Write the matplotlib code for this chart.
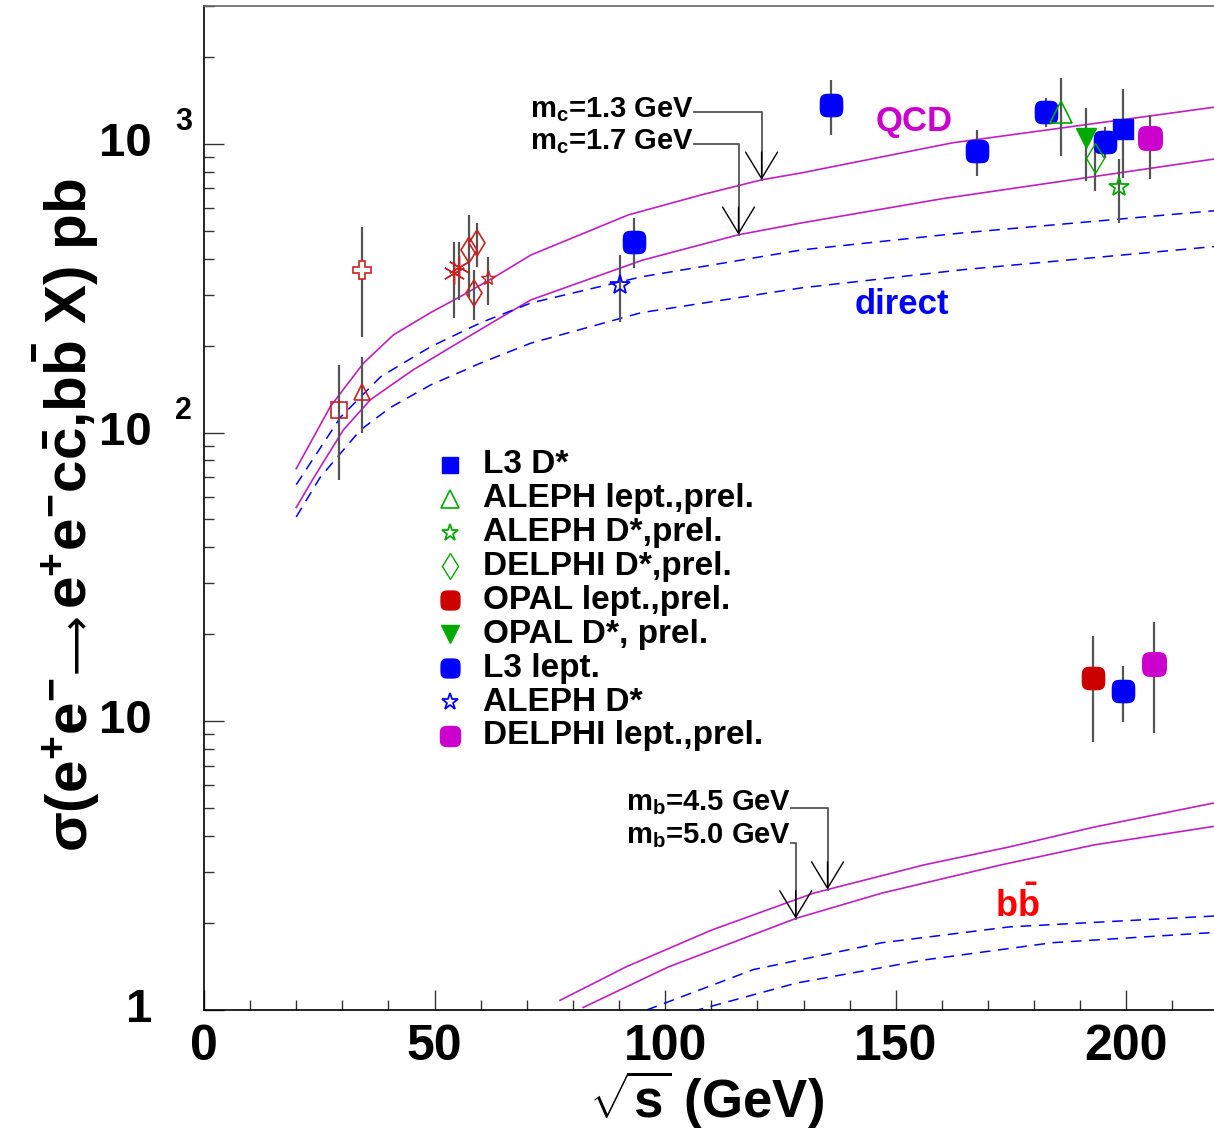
import numpy as np
import matplotlib
matplotlib.use('Agg')
import matplotlib.pyplot as plt
from matplotlib.path import Path
from matplotlib.ticker import MultipleLocator, LogLocator, NullFormatter

plt.rcParams['font.family'] = ['Liberation Sans', 'DejaVu Sans']
plt.rcParams['font.weight'] = 'bold'
plt.rcParams['mathtext.fontset'] = 'custom'
plt.rcParams['mathtext.rm'] = 'Liberation Sans:bold'
plt.rcParams['mathtext.bf'] = 'Liberation Sans:bold'
plt.rcParams['mathtext.it'] = 'Liberation Sans:bold'
plt.rcParams['mathtext.sf'] = 'Liberation Sans:bold'
plt.rcParams['mathtext.default'] = 'rm'

# ---- theory curves (sqrt(s) in GeV, sigma in pb) ----
qcd13_x = [20, 27.4, 34.6, 41.1, 49.1, 56.3, 63.7, 70.9, 92, 107.8, 120.9, 129.6, 162.2, 220]
qcd13_y = [75, 123, 174, 218, 260, 300, 351, 412, 567, 665, 750, 793, 1007, 1345]
qcd17_x = [20, 23.5, 30.2, 36.1, 45.4, 55, 62.8, 70.9, 95, 115.9, 129.6, 160, 220]
qcd17_y = [55, 68.5, 102, 130, 165, 204, 242, 288, 395, 484, 532, 645, 890]
dir13_x = [20, 29.6, 38.3, 49.1, 60, 70.9, 94.8, 129.6, 164.3, 220]
dir13_y = [66, 113, 156, 198, 240, 281, 346, 429, 491, 588]
dir17_x = [20, 25.2, 33.9, 40.4, 49.1, 60, 70.9, 94.8, 129.6, 164.3, 220]
dir17_y = [51, 70, 102, 122, 146, 174, 204, 260, 317, 366, 442]

bb45_x = [77.2, 91.5, 110, 132.2, 156.1, 174.6, 193, 220]
bb45_y = [1.08, 1.41, 1.89, 2.54, 3.18, 3.67, 4.30, 5.25]
bb50_x = [82.2, 100.7, 128.5, 147, 172.8, 193, 220]
bb50_y = [1.02, 1.41, 2.08, 2.54, 3.18, 3.73, 4.35]
bbdir45_x = [96, 119.1, 147, 174.6, 220]
bbdir45_y = [1.0, 1.38, 1.71, 1.94, 2.12]
bbdir50_x = [106, 128.5, 156.1, 183.9, 220]
bbdir50_y = [0.99, 1.24, 1.49, 1.71, 1.86]

# ---- low energy data (x, y, lower end, upper end of error bar) ----
lo_sq_x, lo_sq_y, lo_sq_lo, lo_sq_hi = [29.3], [120], [68.5], [171]
lo_tri_x, lo_tri_y, lo_tri_lo, lo_tri_hi = [34.3], [138], [100], [183]
lo_cross_x, lo_cross_y, lo_cross_lo, lo_cross_hi = [34.3], [366], [214], [515]
lo_ast_x, lo_ast_y, lo_ast_lo, lo_ast_hi = [54.1, 55.4], [357, 375], [249, 288], [457, 457]
lo_dia_x, lo_dia_y, lo_dia_lo, lo_dia_hi = [57.4, 59.3, 58.5], [429, 454, 305], [295, 375, 245], [567, 532, 366]
lo_star_x, lo_star_y, lo_star_lo, lo_star_hi = [61.5], [343], [277], [406]

# ---- LEP charm ----
l3dst_x, l3dst_y, l3dst_lo, l3dst_hi = [199.3], [1127], [762], [1549]
alelep_x, alelep_y, alelep_lo, alelep_hi = [185.9], [1290], [908], [1691]
aledstp_x, aledstp_y, aledstp_lo, aledstp_hi = [198.5], [709], [532], [887]
deldst_x, deldst_y, deldst_lo, deldst_hi = [193.3], [894], [687], [968]
opaldst_x, opaldst_y, opaldst_lo, opaldst_hi = [191.3], [1048], [743], [1331]
l3lep_x = [93.3, 135.9, 167.6, 182.6, 195.4]
l3lep_y = [457, 1364, 945, 1290, 1016]
l3lep_lo = [372, 1074, 774, 1144, 894]
l3lep_hi = [554, 1665, 1117, 1442, 1144]
aledst_x, aledst_y, aledst_lo, aledst_hi = [90.2], [325], [242], [412]
dellep_x, dellep_y, dellep_lo, dellep_hi = [205.2], [1048], [756], [1259]

# ---- LEP beauty ----
opallep_bb_x, opallep_bb_y, opallep_bb_lo, opallep_bb_hi = [192.8], [14.1], [8.48], [19.7]
l3lep_bb_x, l3lep_bb_y, l3lep_bb_lo, l3lep_bb_hi = [199.3], [12.7], [9.95], [15.5]
dellep_bb_x, dellep_bb_y, dellep_bb_lo, dellep_bb_hi = [205.9], [15.8], [9.1], [22.1]

legend_labels = ['L3 D*', 'ALEPH lept.,prel.', 'ALEPH D*,prel.', 'DELPHI D*,prel.',
                 'OPAL lept.,prel.', 'OPAL D*, prel.', 'L3 lept.', 'ALEPH D*',
                 'DELPHI lept.,prel.']

# rounded-square "circle" like the ROOT marker
t = np.linspace(0, 2 * np.pi, 80)
rsq = Path(np.column_stack([np.sign(np.cos(t)) * np.abs(np.cos(t)) ** 0.5,
                            np.sign(np.sin(t)) * np.abs(np.sin(t)) ** 0.5]))

BLUE = '#0000ff'
GREEN = '#00aa00'
RED = '#cc0000'
MAG = '#cc00cc'
DRED = '#cc2020'
LINEMAG = '#c020c0'

styles = {
    'L3 D*': dict(marker='s', color=BLUE, ms=14),
    'ALEPH lept.,prel.': dict(marker='^', mfc='none', mec=GREEN, ms=16, mew=1.2),
    'ALEPH D*,prel.': dict(marker='*', mfc='none', mec=GREEN, ms=15, mew=1.3),
    'DELPHI D*,prel.': dict(marker='d', mfc='none', mec=GREEN, ms=15, mew=1.0),
    'OPAL lept.,prel.': dict(marker=rsq, color=RED, ms=16),
    'OPAL D*, prel.': dict(marker='v', color=GREEN, ms=15),
    'L3 lept.': dict(marker=rsq, color=BLUE, ms=16),
    'ALEPH D*': dict(marker='*', mfc='none', mec=BLUE, ms=15, mew=1.3),
    'DELPHI lept.,prel.': dict(marker=rsq, color=MAG, ms=17),
}

fig = plt.figure(figsize=(12.14, 11.35), dpi=100)
ax = fig.add_axes([204 / 1214, 1 - 1010 / 1135, 1 - 204 / 1214, (1010 - 6) / 1135])


def draw(x, y, lo, hi, **style):
    x = np.asarray(x, float)
    y = np.asarray(y, float)
    err = [y - np.asarray(lo), np.asarray(hi) - y]
    ax.errorbar(x, y, yerr=err, fmt='none', ecolor='#555555', elinewidth=1.6, capsize=0, zorder=3)
    ax.plot(x, y, linestyle='none', zorder=4, **style)


# curves
ax.plot(qcd13_x, qcd13_y, color=LINEMAG, lw=1.2)
ax.plot(qcd17_x, qcd17_y, color=LINEMAG, lw=1.2)
ax.plot(dir13_x, dir13_y, color=BLUE, lw=1.1, dashes=(7, 5))
ax.plot(dir17_x, dir17_y, color=BLUE, lw=1.1, dashes=(7, 5))
ax.plot(bb45_x, bb45_y, color=LINEMAG, lw=1.2)
ax.plot(bb50_x, bb50_y, color=LINEMAG, lw=1.2)
ax.plot(bbdir45_x, bbdir45_y, color=BLUE, lw=1.1, dashes=(7, 5))
ax.plot(bbdir50_x, bbdir50_y, color=BLUE, lw=1.1, dashes=(7, 5))

# low energy points
draw(lo_sq_x, lo_sq_y, lo_sq_lo, lo_sq_hi, marker='s', mfc='none', mec=DRED, ms=12, mew=1.2)
draw(lo_tri_x, lo_tri_y, lo_tri_lo, lo_tri_hi, marker='^', mfc='none', mec=DRED, ms=12, mew=1.2)
draw(lo_cross_x, lo_cross_y, lo_cross_lo, lo_cross_hi, marker='P', mfc='white', mec=DRED, ms=13, mew=1.2)
draw(lo_ast_x, lo_ast_y, lo_ast_lo, lo_ast_hi, marker=(6, 2, 0), color=DRED, ms=16, mew=1.0)
draw(lo_dia_x, lo_dia_y, lo_dia_lo, lo_dia_hi, marker='d', mfc='none', mec=DRED, ms=13, mew=1.2)
draw(lo_star_x, lo_star_y, lo_star_lo, lo_star_hi, marker='*', mfc='none', mec=DRED, ms=11, mew=1.0)

# LEP points
draw(l3lep_x, l3lep_y, l3lep_lo, l3lep_hi, **styles['L3 lept.'])
draw(aledst_x, aledst_y, aledst_lo, aledst_hi, **styles['ALEPH D*'])
draw(alelep_x, alelep_y, alelep_lo, alelep_hi, **styles['ALEPH lept.,prel.'])
draw(opaldst_x, opaldst_y, opaldst_lo, opaldst_hi, **styles['OPAL D*, prel.'])
draw(deldst_x, deldst_y, deldst_lo, deldst_hi, **styles['DELPHI D*,prel.'])
draw(aledstp_x, aledstp_y, aledstp_lo, aledstp_hi, **styles['ALEPH D*,prel.'])
draw(l3dst_x, l3dst_y, l3dst_lo, l3dst_hi, **styles['L3 D*'])
draw(dellep_x, dellep_y, dellep_lo, dellep_hi, **styles['DELPHI lept.,prel.'])
draw(opallep_bb_x, opallep_bb_y, opallep_bb_lo, opallep_bb_hi, **styles['OPAL lept.,prel.'])
draw(l3lep_bb_x, l3lep_bb_y, l3lep_bb_lo, l3lep_bb_hi, **styles['L3 lept.'])
draw(dellep_bb_x, dellep_bb_y, dellep_bb_lo, dellep_bb_hi, **styles['DELPHI lept.,prel.'])

# legend drawn by hand
for i, lab in enumerate(legend_labels):
    yy = 0.543 - i * 0.03375
    st = dict(styles[lab])
    st['ms'] = st['ms'] * 0.85
    ax.plot([0.244], [yy], transform=ax.transAxes, linestyle='none', clip_on=False, **st)
    ax.text(0.2765, yy, lab, transform=ax.transAxes, fontsize=24, va='center', ha='left')


# mass labels with arrows
def mass_label(text, y_txt, x_end, y_line, x_corner, cx, cy):
    ax.text(x_end, y_txt, text, fontsize=21, ha='right', va='baseline')
    tip = 10 ** np.interp(x_corner, cx, np.log10(cy))
    ax.plot([x_end, x_corner, x_corner], [y_line, y_line, tip], color='#555555', lw=1.3)
    ax.annotate('', xy=(x_corner, tip), xytext=(0, 20), textcoords='offset points',
                arrowprops=dict(arrowstyle='->,head_length=19,head_width=11.5', mutation_scale=1,
                                color='k', lw=1.0, shrinkA=0, shrinkB=0))


mass_label(r'm$_{\mathbf{c}}$=1.3 GeV', 1239, 106.3, 1289, 120.9, qcd13_x, qcd13_y)
mass_label(r'm$_{\mathbf{c}}$=1.7 GeV', 960, 106.3, 1000, 115.9, qcd17_x, qcd17_y)
mass_label(r'm$_{\mathbf{b}}$=4.5 GeV', 4.93, 127.2, 5.01, 135.2, bb45_x, bb45_y)
mass_label(r'm$_{\mathbf{b}}$=5.0 GeV', 3.79, 127.2, 3.79, 128.3, bb50_x, bb50_y)

ax.text(153.9, 1191, 'QCD', color=MAG, fontsize=25, ha='center', va='center')
ax.text(151.3, 277, 'direct', color=BLUE, fontsize=25, ha='center', va='center')
ax.text(176.3, 2.31, r'b$\bar{\mathrm{b}}$', color='#ff0000', fontsize=26, ha='center', va='center')

# axes
ax.set_yscale('log')
ax.set_xlim(0, 219)
ax.set_ylim(1, 3000)
ax.xaxis.set_major_locator(MultipleLocator(50))
ax.xaxis.set_minor_locator(MultipleLocator(10))
ax.yaxis.set_major_locator(LogLocator(base=10, numticks=10))
ax.yaxis.set_minor_locator(LogLocator(base=10, subs=np.arange(2, 10), numticks=20))
ax.yaxis.set_major_formatter(NullFormatter())
ax.yaxis.set_minor_formatter(NullFormatter())
ax.tick_params(which='both', direction='in', top=False, right=False, color='#333333', width=1.0)
ax.tick_params(which='major', length=14.4)
ax.tick_params(which='minor', length=7.2)
ax.tick_params(axis='x', labelsize=36, pad=10)
for lab in ax.get_xticklabels():
    lab.set_fontweight('bold')
ax.spines['right'].set_visible(False)
for s in ['left', 'bottom', 'top']:
    ax.spines[s].set_linewidth(1.2)
ax.spines['top'].set_color('#666666')

# y tick labels like the original (10 with detached exponent)
ytick_vals = [1, 10, 100, 1000]
ytick_main = ['1', '10', '10', '10']
ytick_exp = ['', '', '2', '3']
for v, m, e in zip(ytick_vals, ytick_main, ytick_exp):
    ax.annotate(m, xy=(0, v), xycoords=('axes fraction', 'data'), xytext=(-52, 0),
                textcoords='offset pixels', ha='right', va='center', fontsize=34, annotation_clip=False)
    if e:
        ax.annotate(e, xy=(0, v), xycoords=('axes fraction', 'data'), xytext=(-29, 22),
                    textcoords='offset pixels', ha='left', va='center', fontsize=22, annotation_clip=False)

fig.text(0.582, 0.031, r'$\sqrt{\mathrm{s}}$ (GeV)', fontsize=38, ha='center', va='center')

# y label in three pieces so the long arrow can come from DejaVu Sans
ylab_parts = [r'$\sigma$(e$^{+}$e$^{-}$', '\u27f6', r'e$^{+}$e$^{-}$c$\bar{\mathrm{c}}$,b$\bar{\mathrm{b}}$ X) pb']
ylab_kw = [dict(fontsize=42), dict(fontsize=30, family='DejaVu Sans', fontweight='normal'), dict(fontsize=42)]
pieces = [fig.text(0.072, 0, s, rotation=90, rotation_mode='anchor', ha='left', va='baseline', **kw)
          for s, kw in zip(ylab_parts, ylab_kw)]
fig.canvas.draw()
rend = fig.canvas.get_renderer()
lens = [p.get_window_extent(rend).height for p in pieces]
gap = 4
ypos = (1135 - 515) - (sum(lens) + 2 * gap) / 2
for p, ln in zip(pieces, lens):
    p.set_y(ypos / 1135)
    ypos += ln + gap

fig.savefig('out.png', dpi=100)
